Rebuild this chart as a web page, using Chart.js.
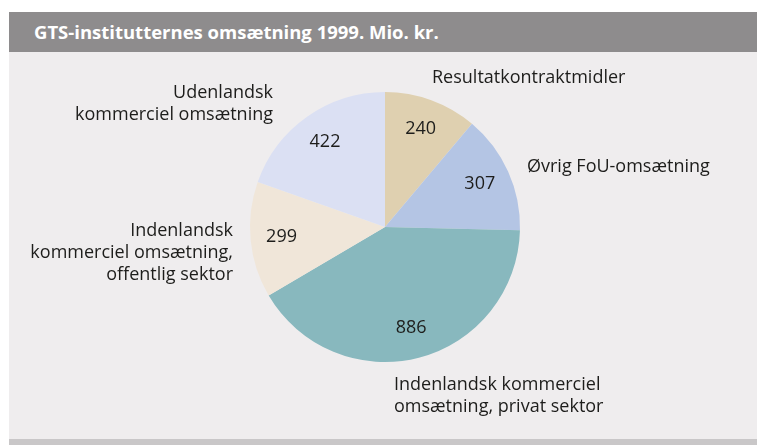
<!DOCTYPE html>
<html>
<head>
<meta charset="utf-8">
<script src="https://cdn.jsdelivr.net/npm/chart.js@4/dist/chart.umd.min.js"></script>
<style>
  html, body { margin: 0; padding: 0; background: #fff; }
  body { width: 757px; height: 445px; position: relative; overflow: hidden; }
  #panel { position: absolute; left: 9px; top: 12px; right: 0; bottom: 0; background: #efedee; }
  #title {
    position: absolute; left: 9px; top: 12px; right: 0; height: 40px;
    background: #8e8c8d; color: #fff;
    font: bold 18.5px "Open Sans", sans-serif;
    line-height: 40px; padding-left: 25px; box-sizing: border-box;
  }
  #foot { position: absolute; left: 9px; right: 0; top: 439px; bottom: 0; background: #c9c7c8; }
  #chart { position: absolute; left: 0; top: 0; }
</style>
</head>
<body>
<div id="panel"></div>
<div id="title">GTS-institutternes omsætning 1999. Mio. kr.</div>
<div id="foot"></div>
<canvas id="chart" width="757" height="445"></canvas>
<script>
// ====== Data ======
const categories = [
  ['Resultatkontraktmidler'],
  ['Øvrig FoU-omsætning'],
  ['Indenlandsk kommerciel', 'omsætning, privat sektor'],
  ['Indenlandsk', 'kommerciel omsætning,', 'offentlig sektor'],
  ['Udenlandsk', 'kommerciel omsætning']
];
const values = [240, 307, 886, 299, 422];
const colors = ['#dfd0b0', '#b4c5e4', '#88b8be', '#f0e6d9', '#dbe0f3'];

// where each category name sits, relative to the pie centre
const labelPlace = [
  { dx: 47, dy: -149, align: 'left' },
  { dx: 142, dy: -60, align: 'left' },
  { dx: 9, dy: 158, align: 'left' },
  { dx: -152, dy: 4, align: 'right' },
  { dx: -112, dy: -134, align: 'right' }
];

const FONT = '18px "Open Sans", sans-serif';
const TEXT = '#1d1d1b';
const LINE_H = 22;

// ====== Labels plugin ======
const pieLabels = {
  id: 'pieLabels',
  afterDatasetsDraw(chart) {
    const c = chart.ctx;
    const meta = chart.getDatasetMeta(0);
    c.save();
    c.font = FONT;
    c.fillStyle = TEXT;
    c.textBaseline = 'middle';
    meta.data.forEach((arc, i) => {
      const p = arc.getProps(['x', 'y', 'startAngle', 'endAngle', 'outerRadius'], true);
      const mid = (p.startAngle + p.endAngle) / 2;
      const r = p.outerRadius * 0.77;
      c.textAlign = 'center';
      c.fillText(String(values[i]), p.x + Math.cos(mid) * r, p.y + Math.sin(mid) * r);

      const pl = labelPlace[i];
      c.textAlign = pl.align;
      categories[i].forEach((line, k) => {
        c.fillText(line, p.x + pl.dx, p.y + pl.dy + k * LINE_H);
      });
    });
    c.restore();
  }
};

const ctx = document.getElementById('chart').getContext('2d');
const pie = new Chart(ctx, {
  type: 'pie',
  data: {
    labels: categories.map(l => l.join(' ')),
    datasets: [{
      data: values,
      backgroundColor: colors,
      borderWidth: 0
    }]
  },
  options: {
    responsive: false,
    devicePixelRatio: 1,
    animation: false,
    layout: { padding: { left: 250, right: 237, top: 92, bottom: 83 } },
    plugins: {
      legend: { display: false },
      tooltip: { enabled: false }
    }
  },
  plugins: [pieLabels]
});
</script>
</body>
</html>
